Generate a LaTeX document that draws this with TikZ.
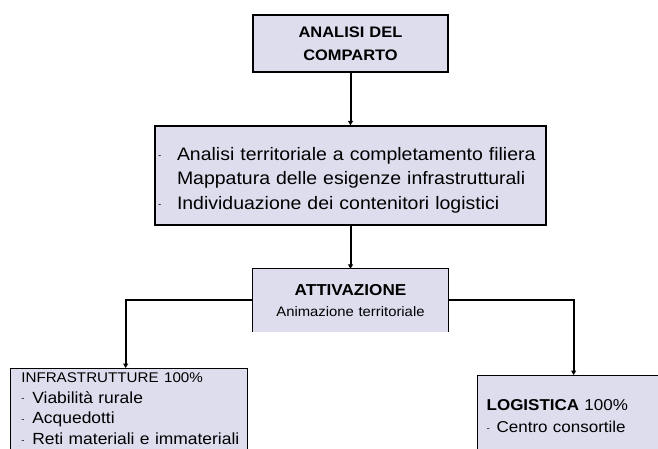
\documentclass[tikz,border=0pt]{standalone}
\usepackage{fontspec}
\setmainfont{Liberation Sans}[FakeStretch=1.08]
\usepackage{tikz}
\usetikzlibrary{arrows.meta}
\definecolor{boxfill}{RGB}{221,221,238}
\newcommand{\itemdash}[1][11bp]{\makebox[#1][l]{\raisebox{1.5bp}{\small -}}}

\begin{document}
\begin{tikzpicture}[x=1bp,y=-1bp]
\tikzstyle{box}=[draw,line width=1.3bp,fill=boxfill,inner sep=0pt]
\tikzstyle{link}=[line width=2bp,-{Triangle[length=4.5bp,width=5bp]}]
\useasboundingbox (0,0) rectangle (658,449);
\clip (0,0) rectangle (658,449);

\node [box,minimum width=195bp,minimum height=57bp,text width=195bp,align=center,
       font=\bfseries\fontsize{15.3}{23}\selectfont] (comparto) at (350.5,43.5) {ANALISI DEL\\COMPARTO};

\node [box,minimum width=391bp,minimum height=99bp,text width=385bp,inner xsep=3bp,align=left,
       font=\fontsize{18.1}{24.5}\selectfont] (filiera) at (350.5,175.5)
      {\rule{0pt}{22bp}\itemdash[19bp]Analisi territoriale a completamento filiera\\
       \hspace*{19bp}Mappatura delle esigenze infrastrutturali\\
       \itemdash[19bp]Individuazione dei contenitori logistici};

\node [fill=boxfill,inner sep=0pt,minimum width=196bp,minimum height=63bp,text width=196bp,align=center,
       font=\fontsize{13.8}{21.3}\selectfont] (attiv) at (350.5,300.5)
      {{\bfseries\fontsize{15.9}{21.3}\selectfont ATTIVAZIONE}\\Animazione territoriale};
\draw [line width=1.3bp] (attiv.south west) -- (attiv.north west) -- (attiv.north east) -- (attiv.south east);

\node [box,anchor=north west,minimum width=237bp,text width=234bp,inner xsep=1.5bp,inner ysep=1bp,
       align=left,font=\fontsize{16.2}{20.8}\selectfont] (infra) at (10,368)
      {\rule{0pt}{12.8bp}\hspace*{9.2bp}{\fontsize{14.1}{20.8}\selectfont INFRASTRUTTURE 100\%}\\
       \hspace*{9.2bp}\itemdash Viabilità rurale\\
       \hspace*{9.2bp}\itemdash Acquedotti\\
       \hspace*{9.2bp}\itemdash Reti materiali e immateriali\rule[-9bp]{0pt}{9bp}};

\node [box,anchor=north west,minimum width=192bp,minimum height=81bp,text width=174bp,inner xsep=9bp,
       align=left,font=\fontsize{15.8}{22}\selectfont] (logist) at (477,375)
      {{\bfseries LOGISTICA} 100\%\\
       \itemdash[10bp]Centro consortile};

\draw [link] (comparto) -- (filiera);
\draw [link] (filiera) -- (attiv);
\draw [link] (attiv.west) -| ([xshift=-3.5bp]infra.north);
\draw [link] (attiv.east) -| (logist.north);

\end{tikzpicture}
\end{document}
